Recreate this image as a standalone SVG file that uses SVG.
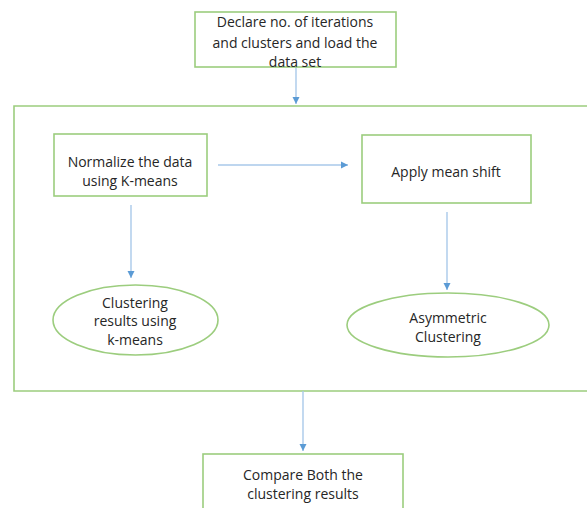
<svg xmlns="http://www.w3.org/2000/svg" width="587" height="508" viewBox="0 0 587 508">
<style>
.box{fill:#fff;stroke:#9ccd7e;stroke-width:1.6}
.frame{fill:none;stroke:#9ccd7e;stroke-width:1.6}
.con{stroke:#a9c9ea;stroke-width:1.4;fill:none}
text{font-family:"Open Sans","Liberation Sans",sans-serif;font-size:14px;fill:#262626;text-anchor:middle;dominant-baseline:central}
</style>
<defs>
<marker id="ah" markerWidth="8" markerHeight="8" refX="7" refY="4" orient="auto" markerUnits="userSpaceOnUse">
<path d="M0,0.5 L7,4 L0,7.5 Z" fill="#5b9bd5"/>
</marker>
</defs>
<rect width="587" height="508" fill="#fff"/>
<g id="frame">
<path class="frame" d="M590,106 H14 V391 H590"/>
</g>
<g id="connectors">
<line class="con" x1="296" y1="67" x2="296" y2="104" marker-end="url(#ah)"/>
<line class="con" x1="218" y1="165" x2="348" y2="165" marker-end="url(#ah)"/>
<line class="con" x1="131" y1="205" x2="131" y2="278" marker-end="url(#ah)"/>
<line class="con" x1="447" y1="212" x2="447" y2="290" marker-end="url(#ah)"/>
<line class="con" x1="303" y1="391" x2="303" y2="451" marker-end="url(#ah)"/>
</g>
<g id="n-declare">
<rect class="box" x="195" y="12" width="201" height="55"/>
<text x="295" y="21">Declare no. of iterations</text>
<text x="295" y="42">and clusters and load the</text>
<text x="295" y="61">data set</text>
</g>
<g id="n-normalize">
<rect class="box" x="54" y="134" width="153" height="62"/>
<text x="130" y="161">Normalize the data</text>
<text x="130" y="180">using K-means</text>
</g>
<g id="n-meanshift">
<rect class="box" x="362" y="135" width="169" height="68"/>
<text x="446" y="171">Apply mean shift</text>
</g>
<g id="n-kmeans-result">
<ellipse class="box" cx="135.5" cy="320" rx="82.5" ry="35"/>
<text x="135" y="302">Clustering</text>
<text x="135" y="320">results using</text>
<text x="135" y="339">k-means</text>
</g>
<g id="n-asym">
<ellipse class="box" cx="448" cy="325" rx="101" ry="32"/>
<text x="448" y="317">Asymmetric</text>
<text x="448" y="336">Clustering</text>
</g>
<g id="n-compare">
<rect class="box" x="203" y="454" width="200" height="60"/>
<text x="303" y="474">Compare Both the</text>
<text x="303" y="493">clustering results</text>
</g>
</svg>
